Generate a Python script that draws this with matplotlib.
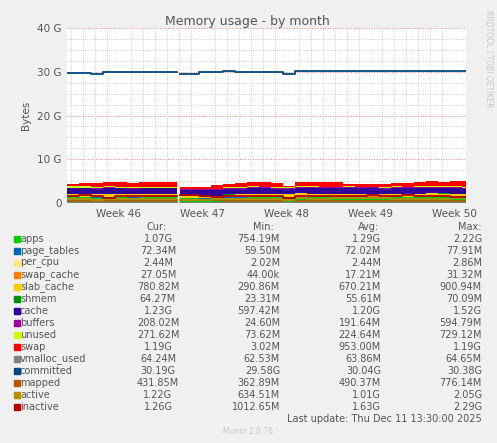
import numpy as np
import matplotlib
matplotlib.use("Agg")
import matplotlib.pyplot as plt

# dias desde el inicio del grafico (semana 46 empieza en el dia 4.33)
dias = np.arange(0, 34, 1.0)
corte = (9.2, 9.4)   # hueco sin datos
nan = np.nan

# valores en GB (capas apiladas)
apps = [1.3, 1.3, 1.2, 1.3, 1.3, 1.2, 1.3, 1.3, 1.3, nan, 1.1, 1.0, 1.1, 1.2, 1.2, 1.3, 1.3, 1.3, 1.2,
        1.4, 1.3, 1.3, 1.3, 1.4, 1.4, 1.4, 1.3, 1.3, 1.3, 1.3, 1.4, 1.3, 1.2, 1.1]
page_tables = [0.07] * 34
per_cpu = [0.0024] * 34
swap_cache = [0.02] * 34
slab_cache = [0.7, 0.7, 0.75, 0.7, 0.7, 0.7, 0.7, 0.7, 0.7, nan, 0.4, 0.35, 0.4, 0.6, 0.7, 0.7, 0.7, 0.7, 0.75,
              0.7, 0.7, 0.7, 0.7, 0.6, 0.6, 0.6, 0.65, 0.7, 0.7, 0.7, 0.7, 0.75, 0.78, 0.78]
shmem = [0.06] * 34
cache = [1.2, 1.2, 1.2, 1.25, 1.2, 1.2, 1.2, 1.2, 1.2, nan, 1.4, 1.5, 1.3, 1.2, 1.2, 1.2, 1.2, 1.15, 1.0,
         1.1, 1.2, 1.2, 1.2, 1.2, 1.2, 1.2, 1.2, 1.2, 1.2, 1.2, 1.2, 1.2, 1.23, 1.23]
buffers = [0.19] * 9 + [nan] + [0.15, 0.1, 0.15, 0.2, 0.2, 0.2, 0.2, 0.2, 0.3, 0.2] + [0.2] * 14
unused = [0.25, 0.25, 0.2, 0.25, 0.2, 0.25, 0.2, 0.2, 0.2, nan, 0.1, 0.1, 0.15, 0.2, 0.25, 0.25, 0.2, 0.2, 0.2,
          0.3, 0.25, 0.2, 0.2, 0.25, 0.2, 0.2, 0.25, 0.25, 0.2, 0.25, 0.27, 0.27, 0.27, 0.27]
swap = [0.6, 0.8, 0.9, 0.95, 0.95, 0.95, 0.95, 0.95, 0.95, nan, 0.3, 0.5, 0.8, 0.9, 0.95, 0.95, 0.95, 0.95, 0.3,
        0.95, 1.0, 1.0, 1.0, 0.6, 0.6, 0.6, 0.6, 0.8, 0.9, 0.9, 1.0, 1.0, 1.1, 1.19]

# lineas
vmalloc_used = [0.064] * 9 + [nan] + [0.064] * 24
committed = [29.8, 29.7, 29.5, 29.9, 29.9, 29.9, 29.9, 29.9, 29.9, nan, 29.6, 29.9, 30.0, 30.1, 29.9, 30.0, 30.0, 30.0, 29.6,
             30.1, 30.1, 30.1, 30.1, 30.1, 30.1, 30.1, 30.1, 30.1, 30.1, 30.1, 30.1, 30.1, 30.2, 30.19]
mapped = [0.45, 0.45, 0.5, 0.45, 0.45, 0.45, 0.45, 0.45, 0.45, nan, 0.6, 0.7, 0.6, 0.5, 0.45, 0.45, 0.45, 0.45, 0.6,
          0.5, 0.5, 0.5, 0.5, 0.5, 0.5, 0.5, 0.5, 0.5, 0.5, 0.45, 0.45, 0.45, 0.43, 0.43]
active = [1.0, 0.9, 0.8, 1.0, 1.0, 1.0, 0.9, 1.0, 1.0, nan, 0.8, 0.7, 0.9, 1.0, 1.0, 1.0, 1.0, 1.0, 0.7,
          1.1, 1.0, 1.0, 1.1, 1.2, 1.2, 1.1, 1.1, 1.0, 1.0, 1.0, 1.0, 1.0, 1.2, 1.22]
inactive = [1.7, 1.8, 1.6, 1.1, 1.6, 1.7, 1.6, 1.5, 1.6, nan, 1.9, 1.7, 1.4, 1.5, 1.5, 1.5, 1.6, 1.5, 1.2,
            1.7, 1.6, 1.7, 1.6, 1.7, 1.5, 1.8, 1.6, 1.7, 1.8, 1.6, 1.7, 1.5, 1.3, 1.26]

nombres = ["apps", "page_tables", "per_cpu", "swap_cache", "slab_cache", "shmem", "cache", "buffers",
           "unused", "swap", "vmalloc_used", "committed", "mapped", "active", "inactive"]
colores = ["#00CC00", "#0066B3", "#FFE680", "#FF8000", "#FFCC00", "#008F00", "#330099", "#990099",
           "#CCFF00", "#FF0000", "#808080", "#00487D", "#B35A00", "#B38F00", "#B30000"]
cur = ["1.07G", "72.34M", "2.44M", "27.05M", "780.82M", "64.27M", "1.23G", "208.02M", "271.62M",
       "1.19G", "64.24M", "30.19G", "431.85M", "1.22G", "1.26G"]
minimo = ["754.19M", "59.50M", "2.02M", "44.00k", "290.86M", "23.31M", "597.42M", "24.60M", "73.62M",
          "3.02M", "62.53M", "29.58G", "362.89M", "634.51M", "1012.65M"]
media = ["1.29G", "72.02M", "2.44M", "17.21M", "670.21M", "55.61M", "1.20G", "191.64M", "224.64M",
         "953.00M", "63.86M", "30.04G", "490.37M", "1.01G", "1.63G"]
maximo = ["2.22G", "77.91M", "2.86M", "31.32M", "900.94M", "70.09M", "1.52G", "594.79M", "729.12M",
          "1.19G", "64.65M", "30.38G", "776.14M", "2.05G", "2.29G"]
semanas = ["Week 46", "Week 47", "Week 48", "Week 49", "Week 50"]

X_FIN = 33.3


def tramos(valores):
    """Divide la serie en dos tramos alrededor del hueco, con los bordes en x."""
    v = np.array(valores, dtype=float)
    x1 = np.append(dias[:9], corte[0])
    y1 = np.append(v[:9], v[8])
    x2 = np.concatenate([[corte[1]], dias[11:], [X_FIN]])
    y2 = np.concatenate([v[10:], [v[-1]]])
    return [(x1, y1), (x2, y2)]


W, H = 497, 443
fig = plt.figure(figsize=(W / 100, H / 100), dpi=100, facecolor="#F0F0F0")
ax = fig.add_axes([67 / W, 1 - 203 / H, (466 - 67) / W, (203 - 28) / H])
ax.set_facecolor("white")

capas = [apps, page_tables, per_cpu, swap_cache, slab_cache, shmem, cache, buffers, unused, swap]
acum = np.zeros(len(dias))
for datos, col in zip(capas, colores[:10]):
    d = np.nan_to_num(np.array(datos, dtype=float))
    for (x, lo), (_, hi) in zip(tramos(acum), tramos(acum + d)):
        ax.fill_between(x, lo, hi, step="post", color=col, linewidth=0)
    acum = acum + d

for datos, col in zip([vmalloc_used, committed, mapped, active, inactive], colores[10:]):
    for x, y in tramos(datos):
        ax.step(x, y, where="post", color=col, linewidth=1.3)

ax.set_xlim(0, X_FIN)
ax.set_ylim(0, 40)
ax.set_yticks([0, 10, 20, 30, 40])
ax.set_yticklabels(["0", "10 G", "20 G", "30 G", "40 G"])
ax.set_yticks(np.arange(0, 40, 2.5), minor=True)
ax.set_xticks([4.33 + 7 * i for i in range(5)])
ax.set_xticklabels(semanas)
ax.set_xticks(np.arange(0.33, X_FIN, 1), minor=True)
ax.grid(True, which="minor", color="#BBBBBB", linestyle=":", linewidth=0.6)
ax.grid(True, which="major", axis="y", color="#E08080", linestyle=":", linewidth=0.7)
ax.set_axisbelow(True)
for s in ax.spines.values():
    s.set_visible(False)
ax.tick_params(which="both", length=0, labelsize=7.5, colors="#555555", pad=4)
ax.set_ylabel("Bytes", fontsize=7.5, color="#555555")
fig.text(247 / W, 1 - 21 / H, "Memory usage - by month", fontsize=9, color="#555555",
         ha="center", va="center")

fig.text(485 / W, 1 - 10 / H, "RRDTOOL / TOBI OETIKER", rotation=270, fontsize=5.5,
         color="#C8C8C8", ha="left", va="top")

# leyenda
gris = "#555555"
y0 = 227
fig.text(157 / W, 1 - y0 / H, "Cur:", fontsize=7, color=gris, ha="center", va="center")
fig.text(263 / W, 1 - y0 / H, "Min:", fontsize=7, color=gris, ha="center", va="center")
fig.text(368 / W, 1 - y0 / H, "Avg:", fontsize=7, color=gris, ha="center", va="center")
fig.text(470 / W, 1 - y0 / H, "Max:", fontsize=7, color=gris, ha="center", va="center")
for i, n in enumerate(nombres):
    y = 1 - (239 + 12 * i) / H
    fig.patches.append(plt.Rectangle((14 / W, y - 3 / H), 6 / W, 6 / H, transform=fig.transFigure,
                                     color=colores[i]))
    fig.text(20 / W, y, n, fontsize=7, color=gris, va="center")
    fig.text(158 / W, y, cur[i], fontsize=7, color=gris, ha="center", va="center")
    fig.text(280 / W, y, minimo[i], fontsize=7, color=gris, ha="right", va="center")
    fig.text(381 / W, y, media[i], fontsize=7, color=gris, ha="right", va="center")
    fig.text(482 / W, y, maximo[i], fontsize=7, color=gris, ha="right", va="center")
fig.text(482 / W, 1 - 419 / H, "Last update: Thu Dec 11 13:30:00 2025", fontsize=7, color=gris,
         ha="right", va="center")
fig.text(248 / W, 1 - 431 / H, "Munin 2.0.76", fontsize=5.5, color="#C8C8C8", ha="center", va="center")

fig.savefig("out.png", dpi=100, facecolor=fig.get_facecolor())
